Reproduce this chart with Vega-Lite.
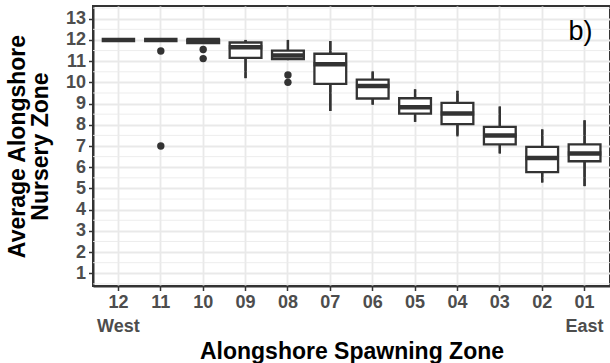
{
  "$schema": "https://vega.github.io/schema/vega-lite/v6.json",
  "width": 517,
  "height": 280,
  "autosize": "none",
  "padding": {"left": 93, "top": 6, "right": 0, "bottom": 77},
  "background": "white",
  "config": {
    "font": "Liberation Sans",
    "view": {"stroke": "#333333", "strokeWidth": 2},
    "axis": {
      "domainColor": "#333333",
      "domainWidth": 2,
      "tickColor": "#333333",
      "tickWidth": 1.5,
      "tickSize": 4.5,
      "gridColor": "#e9e9e9",
      "gridWidth": 1.8,
      "labelFont": "Liberation Sans",
      "labelFontWeight": "bold",
      "labelColor": "#4d4d4d",
      "labelFontSize": 18,
      "labelPadding": 3,
      "titleFont": "Liberation Sans",
      "titleFontWeight": "bold",
      "titleColor": "#000000",
      "titleFontSize": 23
    },
    "axisY": {"labelOverlap": false},
    "axisQuantitative": {"labelOverlap": false}
  },
  "datasets": {
    "boxes": [
      {"zone": "12", "lower": 12.0, "q1": 12.0, "median": 12.0, "q3": 12.0, "upper": 12.0},
      {"zone": "11", "lower": 12.0, "q1": 12.0, "median": 12.0, "q3": 12.0, "upper": 12.0},
      {"zone": "10", "lower": 11.85, "q1": 11.85, "median": 12.0, "q3": 12.0, "upper": 12.0},
      {"zone": "09", "lower": 10.2, "q1": 11.15, "median": 11.65, "q3": 11.88, "upper": 12.0},
      {"zone": "08", "lower": 11.05, "q1": 11.1, "median": 11.27, "q3": 11.5, "upper": 12.0},
      {"zone": "07", "lower": 8.65, "q1": 9.93, "median": 10.85, "q3": 11.35, "upper": 11.95},
      {"zone": "06", "lower": 8.95, "q1": 9.24, "median": 9.83, "q3": 10.13, "upper": 10.52},
      {"zone": "05", "lower": 8.14, "q1": 8.53, "median": 8.83, "q3": 9.25, "upper": 9.67},
      {"zone": "04", "lower": 7.46, "q1": 8.03, "median": 8.53, "q3": 9.03, "upper": 9.6},
      {"zone": "03", "lower": 6.65, "q1": 7.08, "median": 7.5, "q3": 7.9, "upper": 8.86},
      {"zone": "02", "lower": 5.28, "q1": 5.77, "median": 6.44, "q3": 6.96, "upper": 7.78},
      {"zone": "01", "lower": 5.11, "q1": 6.28, "median": 6.65, "q3": 7.08, "upper": 8.21}
    ],
    "outliers": [
      {"zone": "11", "value": 11.48},
      {"zone": "11", "value": 7.0},
      {"zone": "10", "value": 11.55},
      {"zone": "10", "value": 11.12},
      {"zone": "08", "value": 10.35},
      {"zone": "08", "value": 10.0}
    ],
    "minorBreaks": [
      {"y": 0.5}, {"y": 1.5}, {"y": 2.5}, {"y": 3.5}, {"y": 4.5}, {"y": 5.5}, {"y": 6.5},
      {"y": 7.5}, {"y": 8.5}, {"y": 9.5}, {"y": 10.5}, {"y": 11.5}, {"y": 12.5}, {"y": 13.5}
    ],
    "panel": [
      {"zone": "01", "value": 12.0, "tag": "b)"}
    ]
  },
  "layer": [
    {
      "data": {"name": "boxes"},
      "mark": {"type": "rule", "color": "#333333", "strokeWidth": 2.3},
      "encoding": {
        "x": {
          "field": "zone",
          "type": "nominal",
          "scale": {
            "domain": ["12", "11", "10", "09", "08", "07", "06", "05", "04", "03", "02", "01"],
            "paddingInner": 0,
            "paddingOuter": 0.1
          },
          "axis": {
            "title": "Alongshore Spawning Zone",
            "labelAngle": 0,
            "bandPosition": 0.5,
            "grid": true,
            "labelExpr": "datum.label == '12' ? ['12', 'West'] : datum.label == '01' ? ['01', 'East'] : datum.label",
            "labelLineHeight": 24,
            "titlePadding": 5
          }
        },
        "y": {
          "field": "lower",
          "type": "quantitative",
          "scale": {"domain": [0.4, 13.6], "nice": false, "zero": false},
          "axis": {
            "title": ["Average Alongshore", "Nursery Zone"],
            "titleLineHeight": 23,
            "values": [1, 2, 3, 4, 5, 6, 7, 8, 9, 10, 11, 12, 13],
            "tickCount": 13,
            "labelOverlap": false,
            "grid": true,
            "titlePadding": 13
          }
        },
        "y2": {"field": "upper"}
      }
    },
    {
      "data": {"name": "minorBreaks"},
      "mark": {"type": "rule", "color": "#ebebeb", "strokeWidth": 0.9},
      "encoding": {
        "y": {"field": "y", "type": "quantitative"}
      }
    },
    {
      "data": {"name": "boxes"},
      "mark": {"type": "rule", "color": "#333333", "strokeWidth": 2.3},
      "encoding": {
        "x": {"field": "zone", "type": "nominal"},
        "y": {"field": "lower", "type": "quantitative"},
        "y2": {"field": "upper"}
      }
    },
    {
      "data": {"name": "boxes"},
      "mark": {"type": "bar", "fill": "white", "stroke": "#333333", "strokeWidth": 2.3, "width": {"band": 0.75}},
      "encoding": {
        "x": {"field": "zone", "type": "nominal"},
        "y": {"field": "q1", "type": "quantitative"},
        "y2": {"field": "q3"}
      }
    },
    {
      "data": {"name": "boxes"},
      "mark": {"type": "tick", "color": "#333333", "size": 33.5, "thickness": 4.5, "opacity": 1},
      "encoding": {
        "x": {"field": "zone", "type": "nominal"},
        "y": {"field": "median", "type": "quantitative"}
      }
    },
    {
      "data": {"name": "outliers"},
      "mark": {"type": "circle", "color": "#333333", "size": 55, "opacity": 1},
      "encoding": {
        "x": {"field": "zone", "type": "nominal"},
        "y": {"field": "value", "type": "quantitative"}
      }
    },
    {
      "data": {"name": "panel"},
      "mark": {"type": "text", "fontSize": 27, "color": "#000000", "align": "center", "baseline": "alphabetic", "dx": -4, "font": "Liberation Sans"},
      "encoding": {
        "x": {"field": "zone", "type": "nominal"},
        "y": {"field": "value", "type": "quantitative"},
        "text": {"field": "tag"}
      }
    }
  ]
}
